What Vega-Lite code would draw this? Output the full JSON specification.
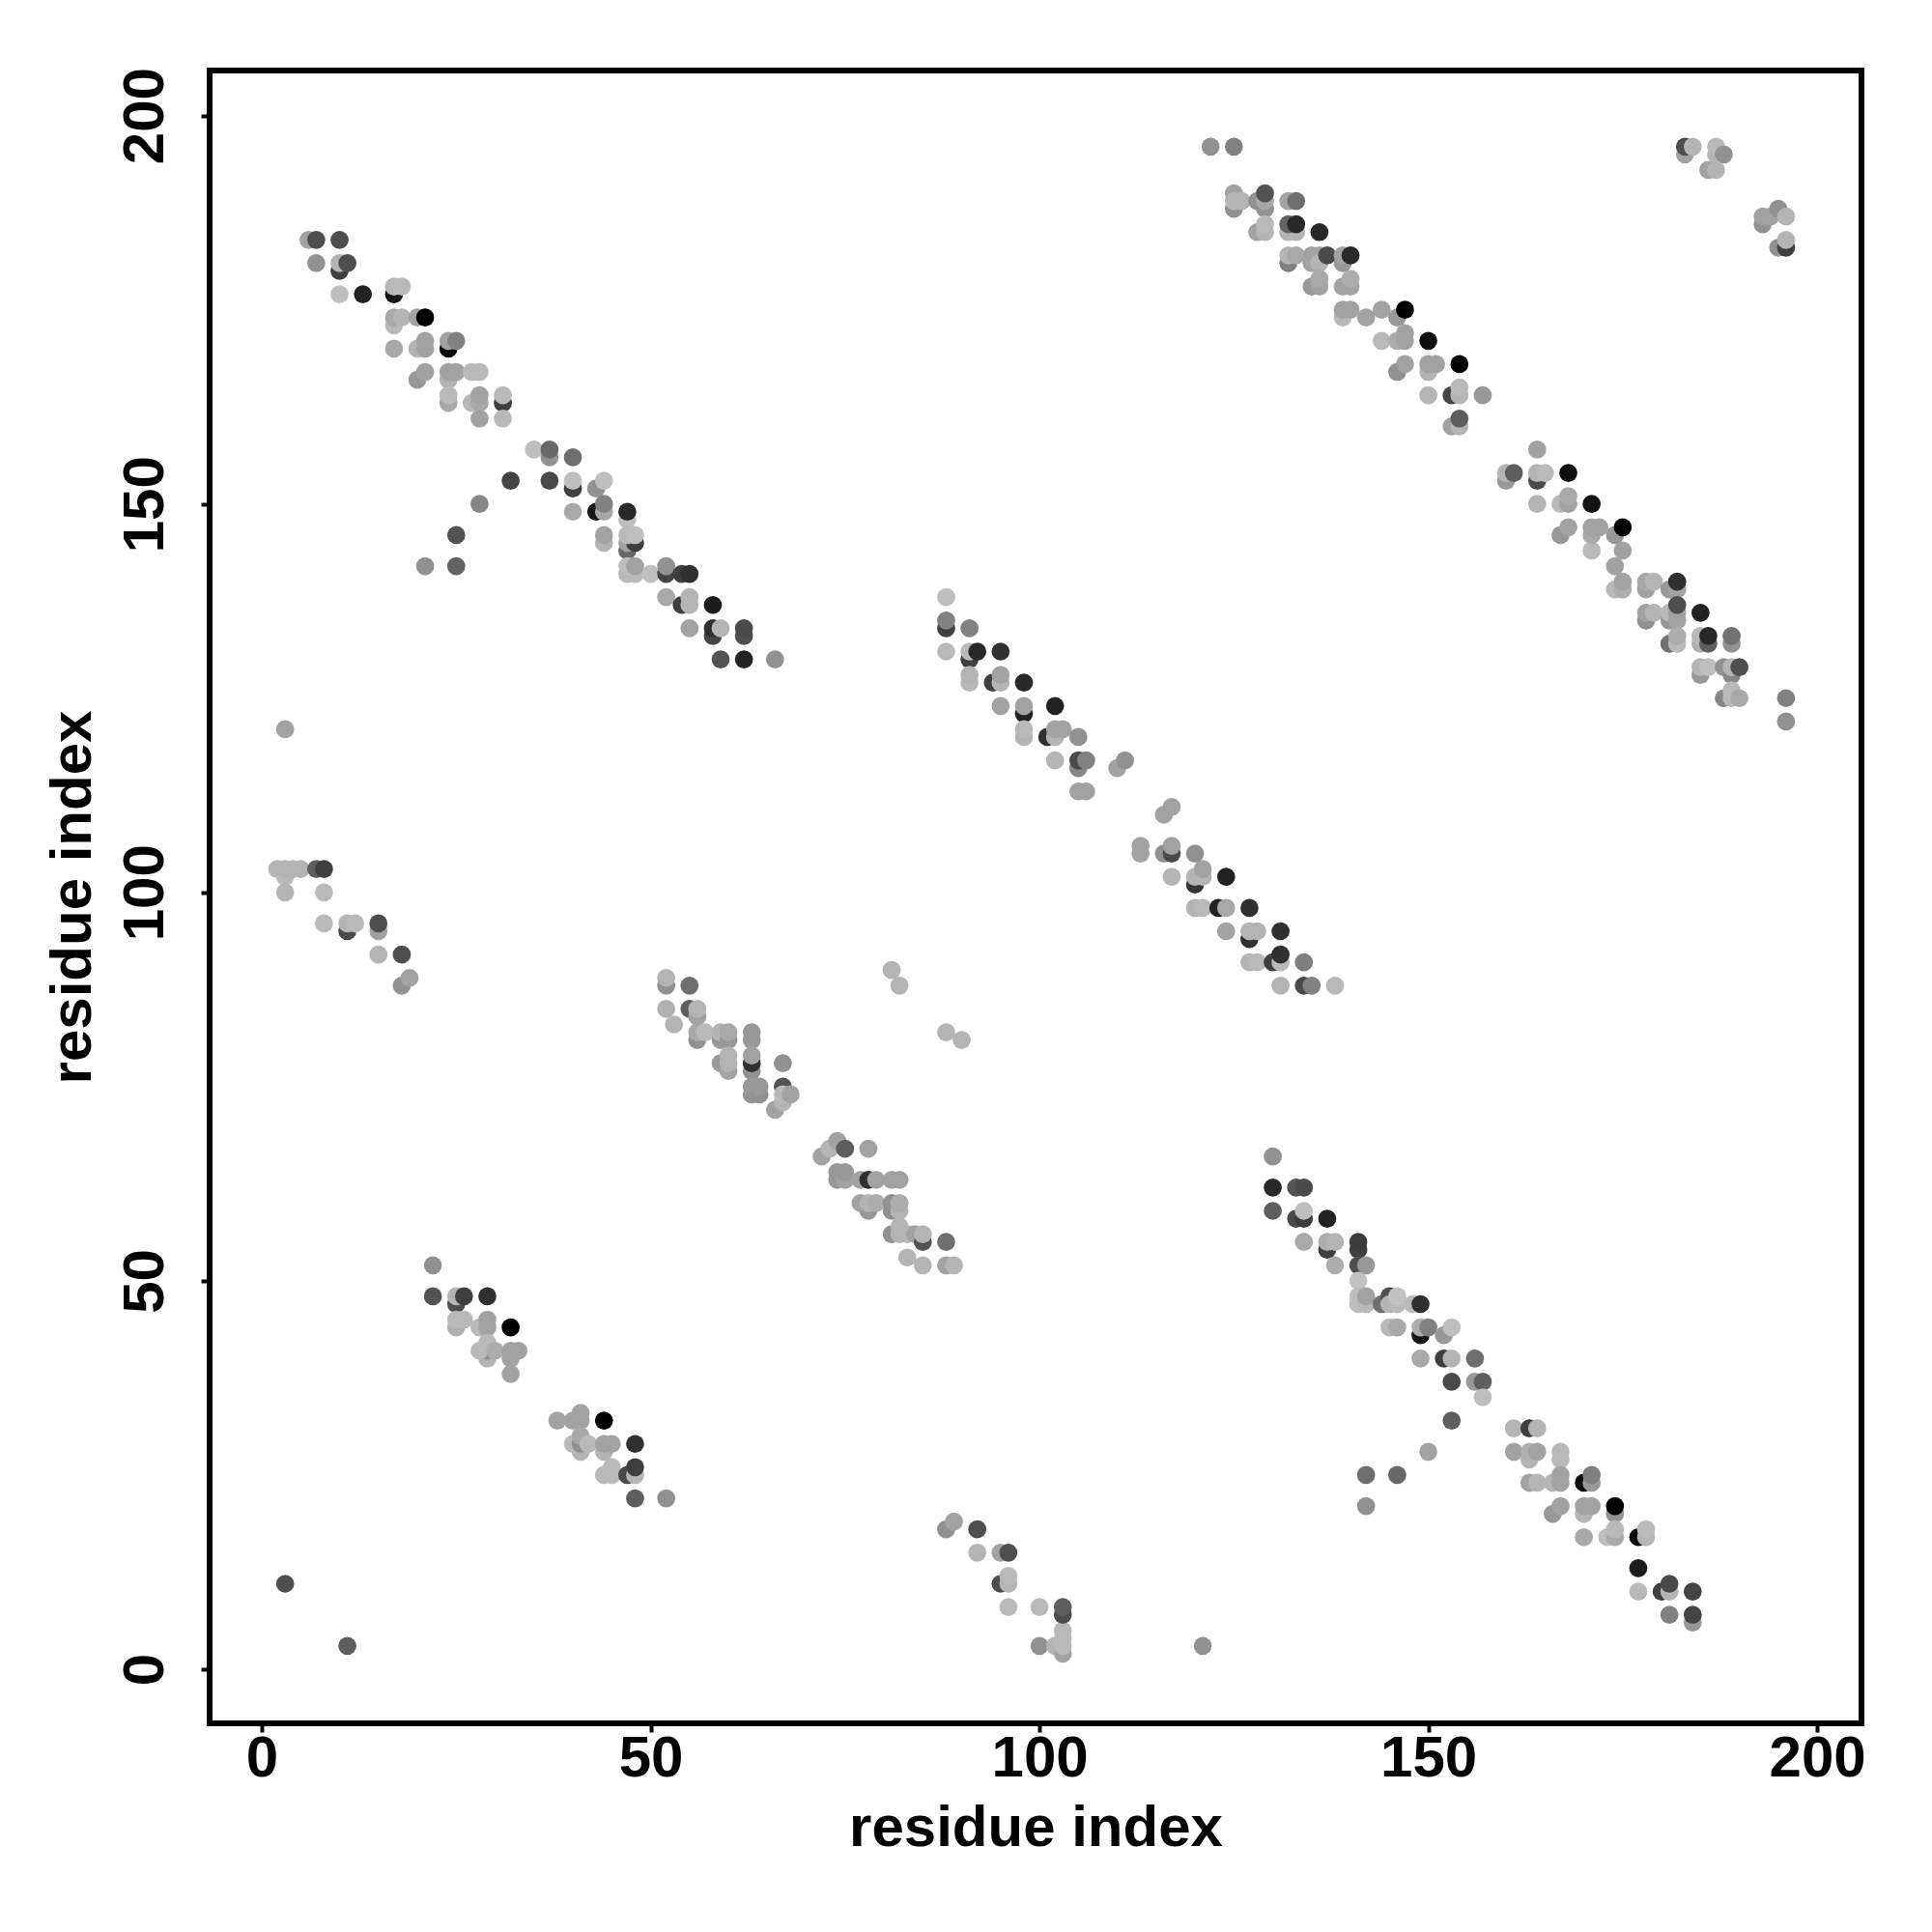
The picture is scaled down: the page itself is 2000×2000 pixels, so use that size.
{"$schema":"https://vega.github.io/schema/vega-lite/v6.json","width":1710,"height":1711,"autosize":{"type":"none"},"padding":{"left":217,"top":73,"right":73,"bottom":216},"background":"white","view":{"stroke":"black","strokeWidth":6,"fill":"white"},
"data":{"values":[
{"i":6,"j":184,"g":170},{"i":7,"j":184,"g":85},{"i":10,"j":184,"g":85},{"i":7,"j":181,"g":153},{"i":10,"j":180,"g":68},{"i":10,"j":181,"g":187},{"i":11,"j":181,"g":85},{"i":10,"j":177,"g":196},{"i":13,"j":177,"g":34},{"i":17,"j":177,"g":17},{"i":17,"j":178,"g":192},{"i":18,"j":178,"g":192},{"i":17,"j":173,"g":192},{"i":17,"j":174,"g":176},{"i":18,"j":174,"g":187},{"i":20,"j":174,"g":170},{"i":21,"j":174,"g":0},{"i":17,"j":170,"g":176},{"i":20,"j":170,"g":187},{"i":21,"j":170,"g":170},{"i":21,"j":171,"g":170},{"i":24,"j":170,"g":0},{"i":24,"j":171,"g":170},{"i":25,"j":171,"g":138},{"i":20,"j":166,"g":160},{"i":21,"j":167,"g":170},{"i":24,"j":166,"g":187},{"i":24,"j":167,"g":170},{"i":25,"j":167,"g":170},{"i":27,"j":167,"g":192},{"i":28,"j":167,"g":192},{"i":24,"j":163,"g":176},{"i":24,"j":164,"g":192},{"i":27,"j":163,"g":192},{"i":28,"j":163,"g":176},{"i":28,"j":164,"g":170},{"i":28,"j":161,"g":170},{"i":31,"j":163,"g":68},{"i":31,"j":164,"g":192},{"i":31,"j":161,"g":192},
{"i":35,"j":157,"g":196},{"i":37,"j":156,"g":153},{"i":37,"j":157,"g":112},{"i":40,"j":156,"g":119},{"i":32,"j":153,"g":74},{"i":37,"j":153,"g":80},{"i":40,"j":152,"g":68},{"i":40,"j":153,"g":196},{"i":43,"j":152,"g":153},{"i":44,"j":153,"g":196},{"i":28,"j":150,"g":144},{"i":40,"j":149,"g":176},{"i":43,"j":149,"g":17},{"i":44,"j":149,"g":176},{"i":44,"j":150,"g":138},{"i":47,"j":148,"g":196},{"i":47,"j":149,"g":42},{"i":25,"j":146,"g":90},{"i":44,"j":145,"g":187},{"i":44,"j":146,"g":170},{"i":47,"j":144,"g":112},{"i":47,"j":145,"g":170},{"i":48,"j":145,"g":68},{"i":47,"j":146,"g":192},{"i":48,"j":146,"g":196},{"i":21,"j":142,"g":153},{"i":25,"j":142,"g":106},{"i":47,"j":141,"g":192},{"i":48,"j":141,"g":192},{"i":47,"j":142,"g":196},{"i":48,"j":142,"g":170},{"i":50,"j":141,"g":196},{"i":52,"j":141,"g":74},{"i":52,"j":142,"g":153},{"i":54,"j":141,"g":68},{"i":55,"j":141,"g":51},{"i":52,"j":138,"g":176},{"i":54,"j":137,"g":68},{"i":55,"j":137,"g":187},{"i":55,"j":138,"g":187},{"i":58,"j":137,"g":26},{"i":55,"j":134,"g":170},{"i":58,"j":133,"g":74},{"i":58,"j":134,"g":51},{"i":59,"j":134,"g":187},{"i":62,"j":133,"g":85},{"i":62,"j":134,"g":80},{"i":59,"j":130,"g":90},{"i":62,"j":130,"g":34},{"i":66,"j":130,"g":153},
{"i":122,"j":196,"g":153},{"i":125,"j":196,"g":138},{"i":125,"j":188,"g":153},{"i":125,"j":190,"g":170},{"i":125,"j":189,"g":187},{"i":126,"j":189,"g":187},{"i":128,"j":189,"g":153},{"i":129,"j":188,"g":153},{"i":129,"j":189,"g":176},{"i":129,"j":190,"g":90},{"i":132,"j":189,"g":170},{"i":133,"j":189,"g":119},{"i":128,"j":185,"g":170},{"i":129,"j":185,"g":187},{"i":129,"j":186,"g":192},{"i":132,"j":185,"g":187},{"i":133,"j":185,"g":187},{"i":132,"j":186,"g":106},{"i":133,"j":186,"g":42},{"i":136,"j":185,"g":42},{"i":132,"j":181,"g":136},{"i":132,"j":182,"g":187},{"i":133,"j":182,"g":176},{"i":135,"j":181,"g":170},{"i":135,"j":182,"g":170},{"i":136,"j":182,"g":170},{"i":136,"j":181,"g":187},{"i":137,"j":182,"g":80},{"i":139,"j":181,"g":160},{"i":139,"j":182,"g":170},{"i":140,"j":182,"g":42},{"i":135,"j":178,"g":160},{"i":136,"j":178,"g":170},{"i":136,"j":179,"g":176},{"i":139,"j":178,"g":170},{"i":140,"j":178,"g":170},{"i":140,"j":179,"g":180},{"i":139,"j":174,"g":192},{"i":139,"j":175,"g":170},{"i":140,"j":175,"g":170},{"i":142,"j":174,"g":170},{"i":144,"j":175,"g":170},{"i":146,"j":174,"g":160},{"i":147,"j":175,"g":0},{"i":144,"j":171,"g":192},{"i":146,"j":171,"g":180},{"i":147,"j":172,"g":170},{"i":147,"j":171,"g":170},{"i":150,"j":171,"g":10},{"i":146,"j":167,"g":153},{"i":147,"j":168,"g":170},{"i":150,"j":167,"g":187},{"i":150,"j":168,"g":170},{"i":151,"j":168,"g":170},{"i":154,"j":168,"g":0},{"i":150,"j":164,"g":187},{"i":153,"j":164,"g":74},{"i":154,"j":164,"g":187},{"i":154,"j":165,"g":192},{"i":157,"j":164,"g":160},{"i":153,"j":160,"g":170},{"i":154,"j":160,"g":187},{"i":154,"j":161,"g":102},
{"i":183,"j":195,"g":170},{"i":183,"j":196,"g":85},{"i":184,"j":196,"g":187},{"i":187,"j":195,"g":187},{"i":187,"j":196,"g":192},{"i":188,"j":195,"g":153},{"i":186,"j":193,"g":170},{"i":187,"j":193,"g":187},{"i":193,"j":186,"g":153},{"i":193,"j":187,"g":170},{"i":194,"j":187,"g":170},{"i":195,"j":188,"g":153},{"i":196,"j":187,"g":187},{"i":195,"j":183,"g":153},{"i":196,"j":183,"g":68},{"i":196,"j":184,"g":187},
{"i":164,"j":157,"g":170},{"i":160,"j":153,"g":160},{"i":160,"j":154,"g":187},{"i":161,"j":154,"g":102},{"i":164,"j":153,"g":80},{"i":164,"j":154,"g":187},{"i":165,"j":154,"g":192},{"i":168,"j":154,"g":10},{"i":164,"j":150,"g":187},{"i":167,"j":150,"g":192},{"i":168,"j":150,"g":170},{"i":168,"j":151,"g":176},{"i":171,"j":150,"g":15},{"i":167,"j":146,"g":160},{"i":168,"j":147,"g":170},{"i":171,"j":144,"g":192},{"i":171,"j":146,"g":176},{"i":171,"j":147,"g":170},{"i":172,"j":147,"g":170},{"i":174,"j":146,"g":160},{"i":175,"j":147,"g":0},{"i":175,"j":144,"g":170},{"i":174,"j":142,"g":170},{"i":174,"j":139,"g":192},{"i":175,"j":139,"g":180},{"i":175,"j":140,"g":170},{"i":178,"j":139,"g":170},{"i":178,"j":140,"g":176},{"i":179,"j":140,"g":187},{"i":181,"j":139,"g":160},{"i":182,"j":139,"g":170},{"i":182,"j":140,"g":51},{"i":178,"j":135,"g":153},{"i":178,"j":136,"g":170},{"i":179,"j":136,"g":187},{"i":181,"j":135,"g":160},{"i":181,"j":136,"g":192},{"i":182,"j":135,"g":170},{"i":182,"j":136,"g":170},{"i":182,"j":137,"g":85},{"i":185,"j":136,"g":34},{"i":181,"j":132,"g":122},{"i":182,"j":132,"g":192},{"i":182,"j":133,"g":180},{"i":185,"j":132,"g":180},{"i":185,"j":133,"g":192},{"i":186,"j":132,"g":102},{"i":186,"j":133,"g":42},{"i":189,"j":132,"g":153},{"i":189,"j":133,"g":122},{"i":185,"j":128,"g":160},{"i":185,"j":129,"g":187},{"i":186,"j":129,"g":196},{"i":188,"j":129,"g":153},{"i":189,"j":128,"g":144},{"i":189,"j":129,"g":187},{"i":190,"j":129,"g":85},{"i":188,"j":125,"g":144},{"i":189,"j":125,"g":192},{"i":189,"j":126,"g":192},{"i":190,"j":125,"g":176},{"i":196,"j":125,"g":138},{"i":196,"j":122,"g":153},
{"i":88,"j":138,"g":196},{"i":88,"j":134,"g":68},{"i":88,"j":135,"g":138},{"i":91,"j":134,"g":138},{"i":88,"j":131,"g":192},{"i":91,"j":130,"g":68},{"i":91,"j":131,"g":192},{"i":92,"j":131,"g":42},{"i":95,"j":131,"g":51},{"i":91,"j":127,"g":192},{"i":91,"j":128,"g":187},{"i":94,"j":127,"g":68},{"i":95,"j":127,"g":187},{"i":95,"j":128,"g":170},{"i":98,"j":127,"g":42},{"i":95,"j":124,"g":170},{"i":98,"j":123,"g":34},{"i":98,"j":124,"g":170},{"i":102,"j":124,"g":34},{"i":98,"j":120,"g":187},{"i":98,"j":121,"g":192},{"i":101,"j":120,"g":51},{"i":102,"j":120,"g":187},{"i":102,"j":121,"g":170},{"i":103,"j":121,"g":170},{"i":105,"j":120,"g":153},{"i":102,"j":117,"g":187},{"i":105,"j":116,"g":144},{"i":105,"j":117,"g":80},{"i":106,"j":117,"g":138},{"i":110,"j":116,"g":170},{"i":111,"j":117,"g":153},{"i":105,"j":113,"g":170},{"i":106,"j":113,"g":170},
{"i":116,"j":110,"g":170},{"i":117,"j":111,"g":170},{"i":113,"j":105,"g":170},{"i":113,"j":106,"g":170},{"i":116,"j":105,"g":153},{"i":117,"j":105,"g":80},{"i":117,"j":106,"g":170},{"i":120,"j":105,"g":153},{"i":117,"j":102,"g":187},{"i":120,"j":101,"g":58},{"i":120,"j":102,"g":187},{"i":121,"j":102,"g":187},{"i":121,"j":103,"g":170},{"i":124,"j":102,"g":34},{"i":120,"j":98,"g":187},{"i":121,"j":98,"g":192},{"i":123,"j":98,"g":34},{"i":124,"j":98,"g":176},{"i":127,"j":98,"g":51},{"i":124,"j":95,"g":170},{"i":127,"j":94,"g":51},{"i":127,"j":95,"g":187},{"i":128,"j":95,"g":187},{"i":131,"j":95,"g":51},{"i":127,"j":91,"g":187},{"i":128,"j":91,"g":192},{"i":130,"j":91,"g":68},{"i":131,"j":91,"g":192},{"i":131,"j":92,"g":51},{"i":134,"j":91,"g":136},{"i":131,"j":88,"g":187},{"i":134,"j":88,"g":80},{"i":135,"j":88,"g":138},{"i":138,"j":88,"g":192},
{"i":52,"j":88,"g":153},{"i":52,"j":89,"g":187},{"i":55,"j":88,"g":119},{"i":52,"j":85,"g":184},{"i":53,"j":83,"g":187},{"i":55,"j":85,"g":102},{"i":56,"j":81,"g":153},{"i":56,"j":82,"g":176},{"i":56,"j":84,"g":170},{"i":56,"j":85,"g":187},{"i":57,"j":82,"g":192},{"i":59,"j":81,"g":160},{"i":59,"j":82,"g":187},{"i":60,"j":81,"g":160},{"i":60,"j":82,"g":176},{"i":59,"j":78,"g":160},{"i":60,"j":77,"g":170},{"i":60,"j":78,"g":187},{"i":60,"j":79,"g":187},{"i":63,"j":81,"g":160},{"i":63,"j":82,"g":160},{"i":63,"j":77,"g":153},{"i":63,"j":78,"g":51},{"i":63,"j":79,"g":170},{"i":63,"j":74,"g":153},{"i":63,"j":75,"g":160},{"i":64,"j":74,"g":153},{"i":64,"j":75,"g":160},{"i":67,"j":78,"g":153},{"i":66,"j":72,"g":170},{"i":67,"j":75,"g":90},{"i":67,"j":73,"g":187},{"i":67,"j":74,"g":192},{"i":68,"j":74,"g":170},{"i":81,"j":90,"g":187},{"i":82,"j":88,"g":187},{"i":88,"j":82,"g":187},{"i":90,"j":81,"g":187},
{"i":72,"j":66,"g":170},{"i":73,"j":67,"g":187},{"i":74,"j":68,"g":170},{"i":75,"j":67,"g":102},{"i":78,"j":67,"g":170},{"i":74,"j":63,"g":160},{"i":74,"j":64,"g":160},{"i":75,"j":63,"g":170},{"i":75,"j":64,"g":160},{"i":77,"j":63,"g":170},{"i":78,"j":63,"g":51},{"i":79,"j":63,"g":170},{"i":81,"j":63,"g":170},{"i":82,"j":63,"g":170},{"i":77,"j":60,"g":170},{"i":78,"j":59,"g":160},{"i":78,"j":60,"g":187},{"i":79,"j":60,"g":180},{"i":81,"j":59,"g":153},{"i":81,"j":60,"g":153},{"i":82,"j":59,"g":187},{"i":82,"j":60,"g":180},{"i":81,"j":56,"g":153},{"i":82,"j":56,"g":187},{"i":82,"j":57,"g":187},{"i":83,"j":56,"g":187},{"i":84,"j":56,"g":170},{"i":85,"j":55,"g":90},{"i":85,"j":56,"g":187},{"i":88,"j":55,"g":119},{"i":83,"j":53,"g":187},{"i":85,"j":52,"g":187},{"i":88,"j":52,"g":170},{"i":89,"j":52,"g":187},
{"i":130,"j":66,"g":153},{"i":130,"j":62,"g":42},{"i":133,"j":62,"g":90},{"i":134,"j":62,"g":80},{"i":130,"j":59,"g":102},{"i":133,"j":58,"g":80},{"i":134,"j":58,"g":64},{"i":134,"j":59,"g":196},{"i":137,"j":58,"g":34},{"i":134,"j":55,"g":176},{"i":137,"j":54,"g":68},{"i":137,"j":55,"g":180},{"i":138,"j":55,"g":187},{"i":141,"j":54,"g":68},{"i":141,"j":55,"g":64},{"i":138,"j":52,"g":180},{"i":141,"j":52,"g":85},{"i":142,"j":52,"g":160},{"i":141,"j":50,"g":200},{"i":141,"j":47,"g":196},{"i":141,"j":48,"g":196},{"i":142,"j":47,"g":192},{"i":142,"j":48,"g":170},{"i":144,"j":47,"g":119},{"i":145,"j":48,"g":85},{"i":145,"j":47,"g":187},{"i":146,"j":47,"g":192},{"i":146,"j":48,"g":200},{"i":148,"j":47,"g":192},{"i":149,"j":47,"g":51},{"i":145,"j":44,"g":192},{"i":146,"j":44,"g":176},{"i":149,"j":43,"g":17},{"i":149,"j":44,"g":180},{"i":150,"j":44,"g":138},{"i":152,"j":43,"g":160},{"i":153,"j":44,"g":196},{"i":149,"j":40,"g":176},{"i":152,"j":40,"g":68},{"i":153,"j":40,"g":187},{"i":156,"j":40,"g":119},{"i":153,"j":37,"g":80},{"i":156,"j":37,"g":160},{"i":157,"j":37,"g":102},{"i":157,"j":35,"g":196},{"i":150,"j":28,"g":170},{"i":153,"j":32,"g":102},{"i":142,"j":25,"g":119},{"i":146,"j":25,"g":112},{"i":142,"j":21,"g":153},
{"i":161,"j":31,"g":187},{"i":163,"j":31,"g":68},{"i":164,"j":31,"g":187},{"i":161,"j":28,"g":170},{"i":163,"j":27,"g":187},{"i":163,"j":28,"g":184},{"i":164,"j":28,"g":170},{"i":167,"j":27,"g":192},{"i":167,"j":28,"g":192},{"i":163,"j":24,"g":170},{"i":164,"j":24,"g":187},{"i":166,"j":24,"g":187},{"i":167,"j":24,"g":170},{"i":167,"j":25,"g":170},{"i":170,"j":24,"g":10},{"i":171,"j":24,"g":160},{"i":171,"j":25,"g":136},{"i":166,"j":20,"g":160},{"i":167,"j":21,"g":170},{"i":170,"j":20,"g":187},{"i":170,"j":21,"g":170},{"i":171,"j":21,"g":170},{"i":174,"j":20,"g":153},{"i":174,"j":21,"g":0},{"i":170,"j":17,"g":176},{"i":173,"j":17,"g":196},{"i":174,"j":17,"g":176},{"i":174,"j":18,"g":192},{"i":177,"j":17,"g":0},{"i":178,"j":17,"g":187},{"i":178,"j":18,"g":192},{"i":177,"j":13,"g":26},{"i":177,"j":10,"g":192},{"i":180,"j":10,"g":68},{"i":181,"j":10,"g":187},{"i":181,"j":11,"g":80},{"i":184,"j":10,"g":74},{"i":181,"j":7,"g":138},{"i":184,"j":6,"g":160},{"i":184,"j":7,"g":74},
{"i":22,"j":52,"g":153},{"i":22,"j":48,"g":90},{"i":25,"j":47,"g":85},{"i":25,"j":48,"g":187},{"i":26,"j":48,"g":68},{"i":29,"j":48,"g":51},{"i":25,"j":44,"g":184},{"i":25,"j":45,"g":192},{"i":26,"j":45,"g":192},{"i":28,"j":44,"g":192},{"i":29,"j":44,"g":170},{"i":29,"j":45,"g":170},{"i":32,"j":44,"g":0},{"i":29,"j":40,"g":187},{"i":29,"j":41,"g":153},{"i":28,"j":41,"g":192},{"i":29,"j":42,"g":192},{"i":30,"j":41,"g":180},{"i":32,"j":40,"g":170},{"i":32,"j":41,"g":170},{"i":33,"j":41,"g":170},{"i":32,"j":38,"g":170},
{"i":38,"j":32,"g":170},{"i":40,"j":32,"g":170},{"i":41,"j":32,"g":170},{"i":41,"j":33,"g":170},{"i":44,"j":32,"g":0},{"i":41,"j":28,"g":187},{"i":40,"j":29,"g":192},{"i":41,"j":29,"g":153},{"i":41,"j":30,"g":176},{"i":42,"j":29,"g":192},{"i":44,"j":28,"g":187},{"i":44,"j":29,"g":170},{"i":45,"j":29,"g":170},{"i":48,"j":29,"g":51},{"i":44,"j":25,"g":192},{"i":45,"j":25,"g":192},{"i":45,"j":26,"g":192},{"i":47,"j":25,"g":80},{"i":48,"j":25,"g":187},{"i":48,"j":26,"g":68},{"i":48,"j":22,"g":102},{"i":52,"j":22,"g":153},
{"i":2,"j":103,"g":187},{"i":3,"j":102,"g":192},{"i":3,"j":103,"g":187},{"i":4,"j":103,"g":187},{"i":5,"j":103,"g":187},{"i":7,"j":103,"g":102},{"i":8,"j":103,"g":68},{"i":3,"j":100,"g":187},{"i":8,"j":100,"g":192},{"i":8,"j":96,"g":192},{"i":3,"j":121,"g":170},{"i":11,"j":95,"g":80},{"i":11,"j":96,"g":187},{"i":12,"j":96,"g":192},{"i":15,"j":95,"g":170},{"i":15,"j":96,"g":85},{"i":15,"j":92,"g":187},{"i":18,"j":92,"g":85},{"i":18,"j":88,"g":153},{"i":19,"j":89,"g":170},{"i":3,"j":11,"g":85},{"i":11,"j":3,"g":102},{"i":121,"j":3,"g":153},
{"i":88,"j":18,"g":153},{"i":89,"j":19,"g":170},{"i":92,"j":18,"g":85},{"i":92,"j":15,"g":187},{"i":95,"j":15,"g":170},{"i":96,"j":15,"g":85},{"i":95,"j":11,"g":85},{"i":96,"j":11,"g":187},{"i":96,"j":12,"g":192},{"i":96,"j":8,"g":192},{"i":100,"j":8,"g":192},{"i":100,"j":3,"g":153},{"i":102,"j":3,"g":187},{"i":103,"j":2,"g":170},{"i":103,"j":3,"g":192},{"i":103,"j":4,"g":192},{"i":103,"j":5,"g":192},{"i":103,"j":7,"g":85},{"i":103,"j":8,"g":102}
]},
"mark":{"type":"circle","size":350,"opacity":1},
"encoding":{
"x":{"field":"i","type":"quantitative","scale":{"domain":[-6.71,205.7],"nice":false,"zero":false},
"axis":{"title":"residue index","values":[0,50,100,150,200],"grid":false,"domain":false,"tickColor":"black","tickWidth":4,"tickSize":9,"labelFont":"Liberation Sans","labelFontWeight":"bold","labelFontSize":60,"labelColor":"black","labelPadding":-2,"labelFlush":false,"labelOverlap":false,"labelBound":false,"titleFont":"Liberation Sans","titleFontWeight":"bold","titleFontSize":60,"titleColor":"black","titlePadding":13}},
"y":{"field":"j","type":"quantitative","scale":{"domain":[-6.97,205.8],"nice":false,"zero":false},
"axis":{"title":"residue index","values":[0,50,100,150,200],"grid":false,"domain":false,"tickColor":"black","tickWidth":4,"tickSize":9,"labelFont":"Liberation Sans","labelFontWeight":"bold","labelFontSize":60,"labelColor":"black","labelAngle":-90,"labelAlign":"center","labelBaseline":"bottom","labelPadding":27,"labelFlush":false,"labelOverlap":false,"labelBound":false,"titleFont":"Liberation Sans","titleFontWeight":"bold","titleFontSize":60,"titleColor":"black","titlePadding":14}},
"color":{"field":"g","type":"quantitative","legend":null,"scale":{"domain":[0,255],"range":["#000000","#ffffff"]}}
}}
